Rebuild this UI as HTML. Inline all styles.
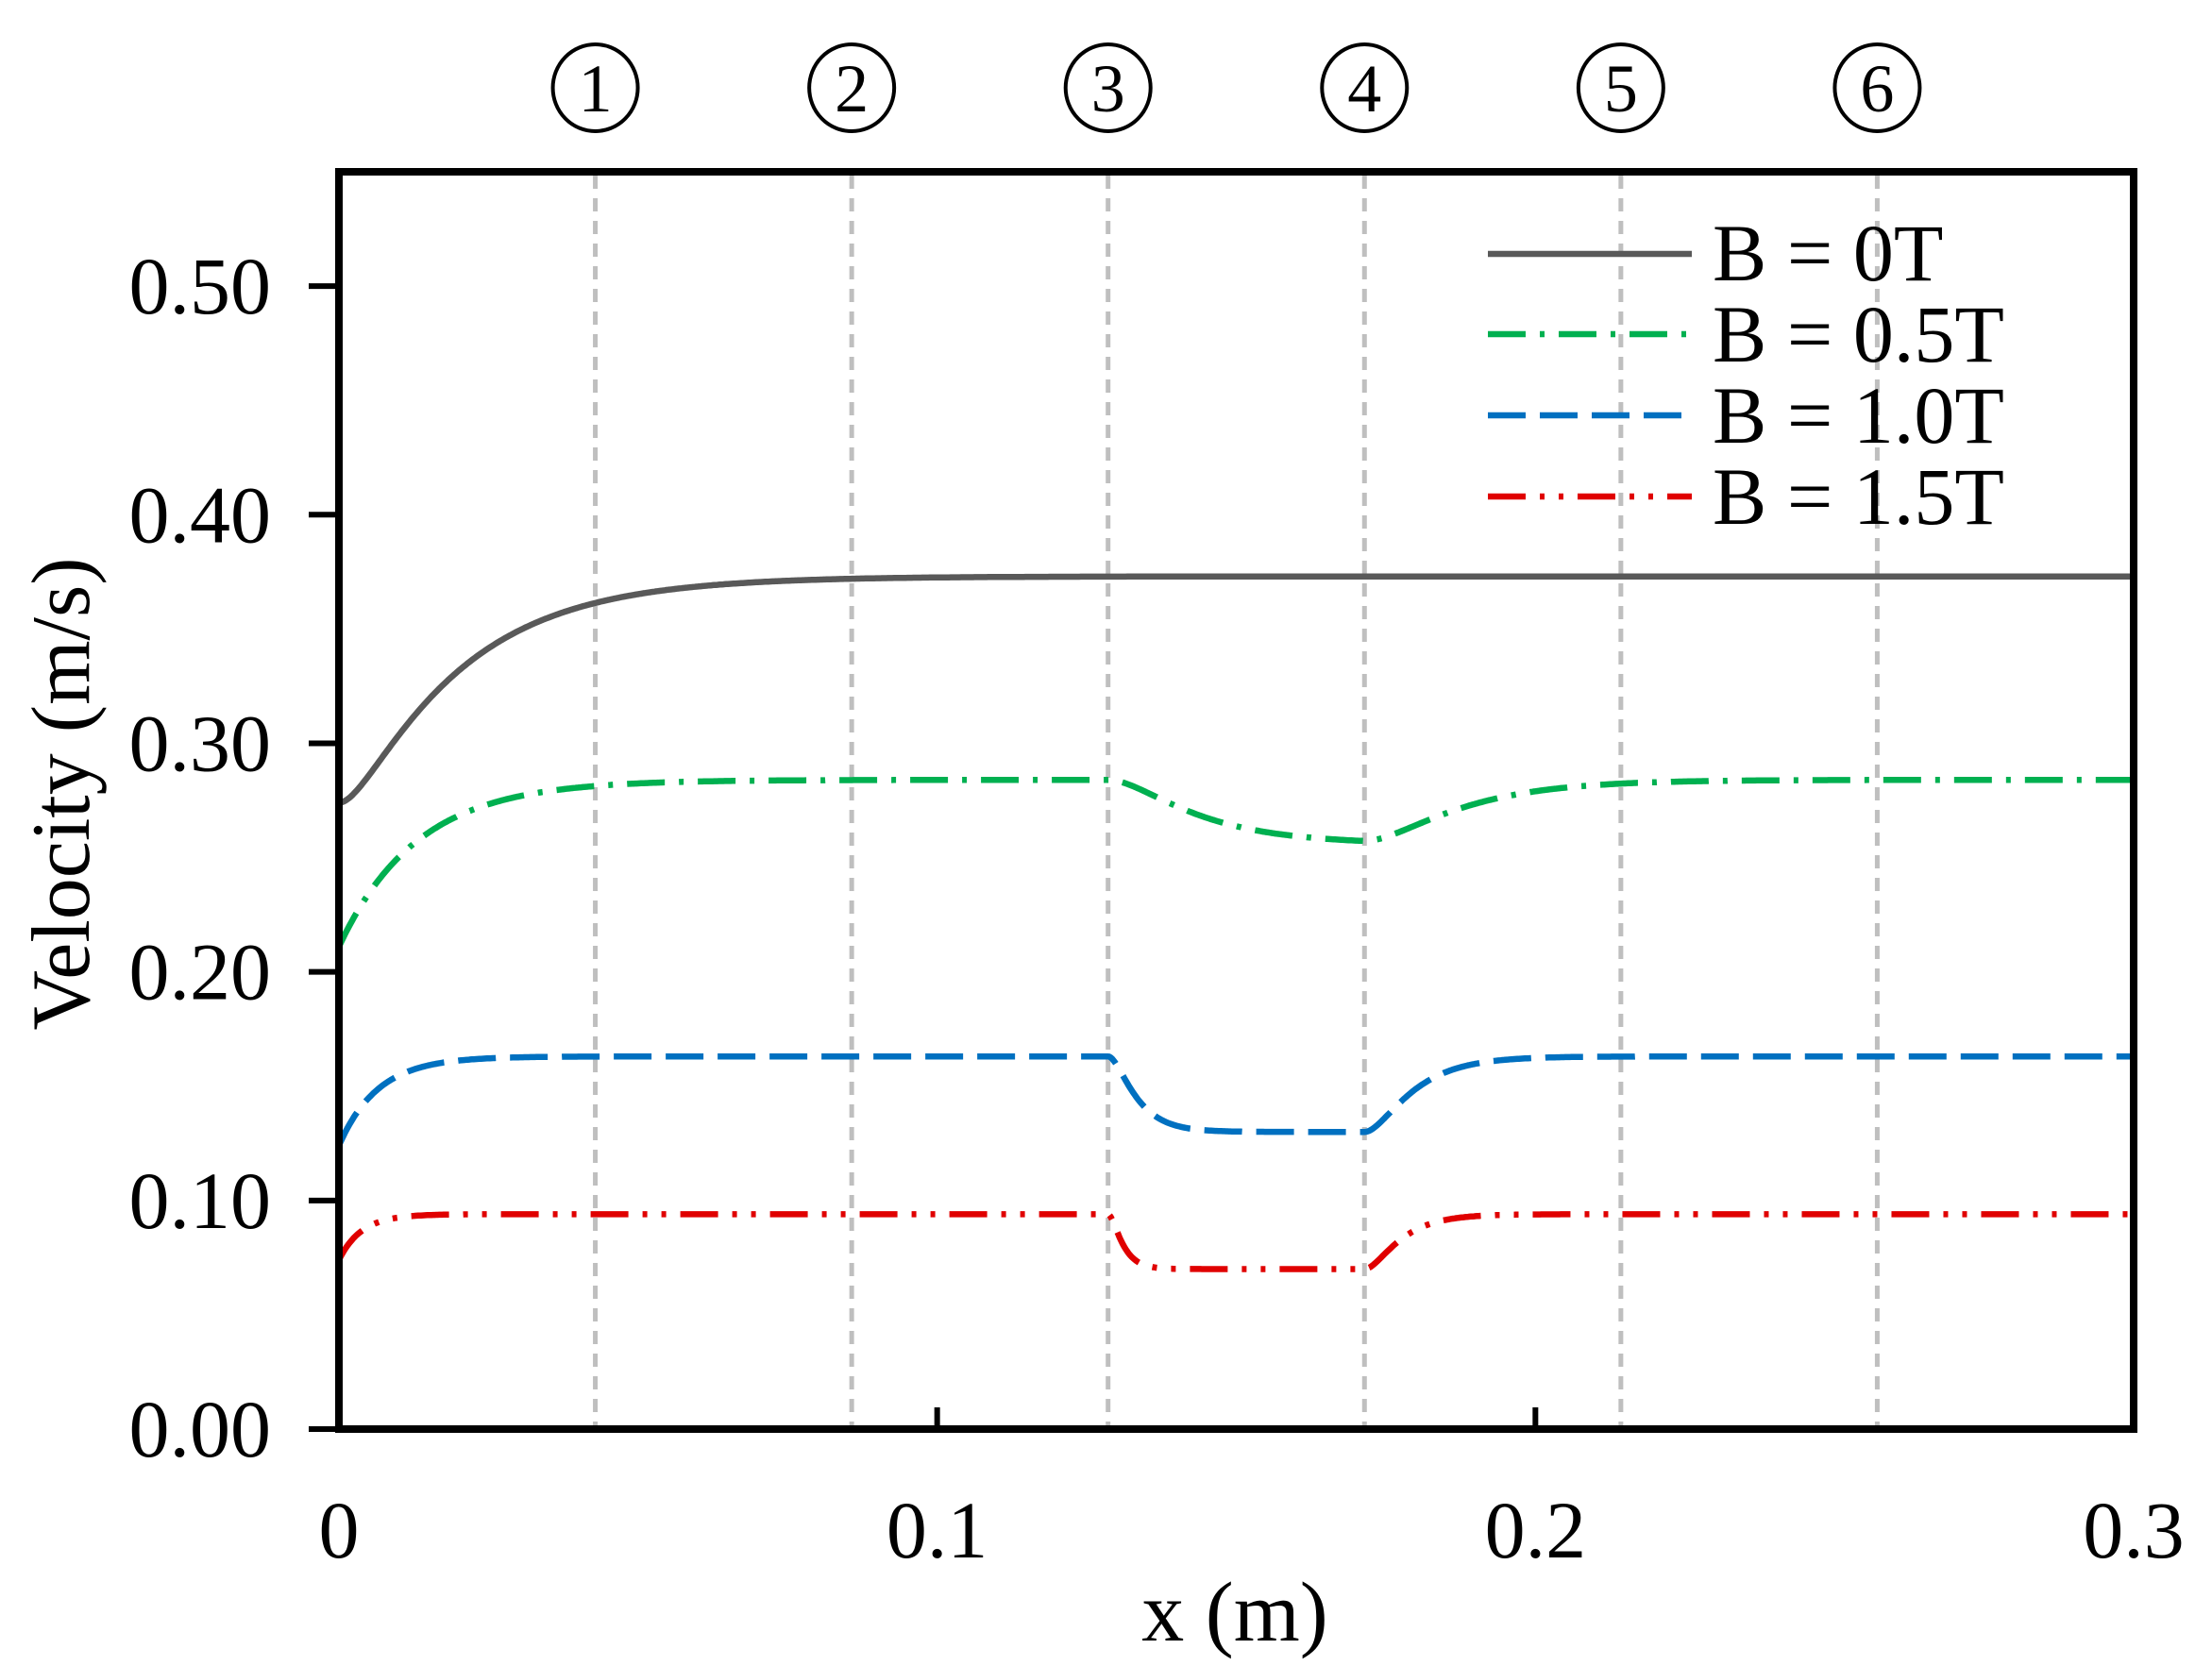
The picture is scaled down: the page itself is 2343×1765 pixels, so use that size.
<!DOCTYPE html>
<html><head><meta charset="utf-8"><style>
html,body{margin:0;padding:0;background:#fff}
svg text{font-family:"Liberation Serif","Times New Roman",serif;fill:#000}
</style></head><body>
<svg id="s" width="2343" height="1760" viewBox="0 0 2343 1760" xmlns="http://www.w3.org/2000/svg" font-family="Liberation Serif, Times New Roman, serif">
<g id="vl"></g>
<g id="curves" fill="none" stroke-width="6.5"></g>
<rect x="359" y="182" width="1901" height="1332" fill="none" stroke="#000" stroke-width="8"/>
<g id="ticks" stroke="#000" stroke-width="6"></g>
<g id="labels" font-size="86"></g>
<g stroke-width="6.5" fill="none">
<line x1="1576" y1="269" x2="1792" y2="269" stroke="#595959"/>
<line x1="1576" y1="354" x2="1792" y2="354" stroke="#00b050" stroke-dasharray="40 15 5 15"/>
<line x1="1576" y1="440" x2="1792" y2="440" stroke="#0070c0" stroke-dasharray="40 15"/>
<line x1="1576" y1="526" x2="1792" y2="526" stroke="#e00000" stroke-dasharray="40 15 5 15 5 15"/>
</g>
<g font-size="86">
<text x="1814" y="297">B = 0T</text>
<text x="1814" y="383">B = 0.5T</text>
<text x="1814" y="469">B = 1.0T</text>
<text x="1814" y="555">B = 1.5T</text>
</g>
<text x="1308" y="1738" font-size="90" text-anchor="middle">x (m)</text>
<text x="0" y="0" font-size="88" text-anchor="middle" transform="translate(94,841) rotate(-90)">Velocity (m/s)</text>
</svg>
<script>
var NS="http://www.w3.org/2000/svg";
function X(x){return 359+x/0.3*1901;}
function Y(v){return 1514-v*2421.8;}
function el(p,t,a,txt){var e=document.createElementNS(NS,t);for(var k in a)e.setAttribute(k,a[k]);if(txt!==undefined)e.textContent=txt;document.getElementById(p).appendChild(e);return e;}
for(var k=1;k<=6;k++){var x=X(k*0.3/7);
el("vl","line",{x1:x,y1:186,x2:x,y2:1510,stroke:"#bfbfbf","stroke-width":5,"stroke-dasharray":"14 10"});
el("vl","ellipse",{cx:x,cy:93,rx:45,ry:46,fill:"none",stroke:"#000","stroke-width":4});
el("vl","text",{x:x,y:118,"font-size":72,"text-anchor":"middle"},""+k);}
for(var i=0;i<=5;i++){var y=Y(i*0.1);el("ticks","line",{x1:327,y1:y,x2:359,y2:y});
el("labels","text",{x:287,y:y+29,"text-anchor":"end"},(i/10).toFixed(2));}
[0.1,0.2].forEach(function(v){el("ticks","line",{x1:X(v),y1:1514,x2:X(v),y2:1491});});
["0","0.1","0.2","0.3"].forEach(function(t,i){el("labels","text",{x:X(i*0.1),y:1650,"text-anchor":"middle"},t);});
var x1=0.3*3/7,x2=0.3*4/7;
function mk(base,start,tau,d,td,tr){return function(x){
 var v=base-(base-start)*Math.exp(-x/tau);
 if(x>x1&&x<=x2){var t=(x-x1)/td;v-=d*(1-Math.exp(-t*t/(1+t)));}
 if(x>x2){var tt=(x2-x1)/td;var dd=d*(1-Math.exp(-tt*tt/(1+tt)));var t2=(x-x2)/tr;v-=dd*Math.exp(-t2*t2/(1+t2));}
 return v;};}
var f0=function(x){var t=x/0.0175;return 0.373-0.099*Math.exp(-t*t/(0.35+t));};
var series=[[f0,"#595959",null],[mk(0.284,0.211,0.013,0.028,0.011,0.012),"#00b050","40 15 5 15"],
[mk(0.163,0.124,0.0065,0.033,0.0035,0.006),"#0070c0","40 15"],[mk(0.094,0.074,0.0038,0.024,0.0018,0.0045),"#e00000","40 15 5 15 5 15"]];
series.forEach(function(s){var d="";for(var j=0;j<=1200;j++){var x=0.3*j/1200;d+=(j?"L":"M")+X(x).toFixed(1)+" "+Y(s[0](x)).toFixed(1);}
var a={d:d,stroke:s[1]};if(s[2])a["stroke-dasharray"]=s[2];el("curves","path",a);});
</script>
</body></html>
